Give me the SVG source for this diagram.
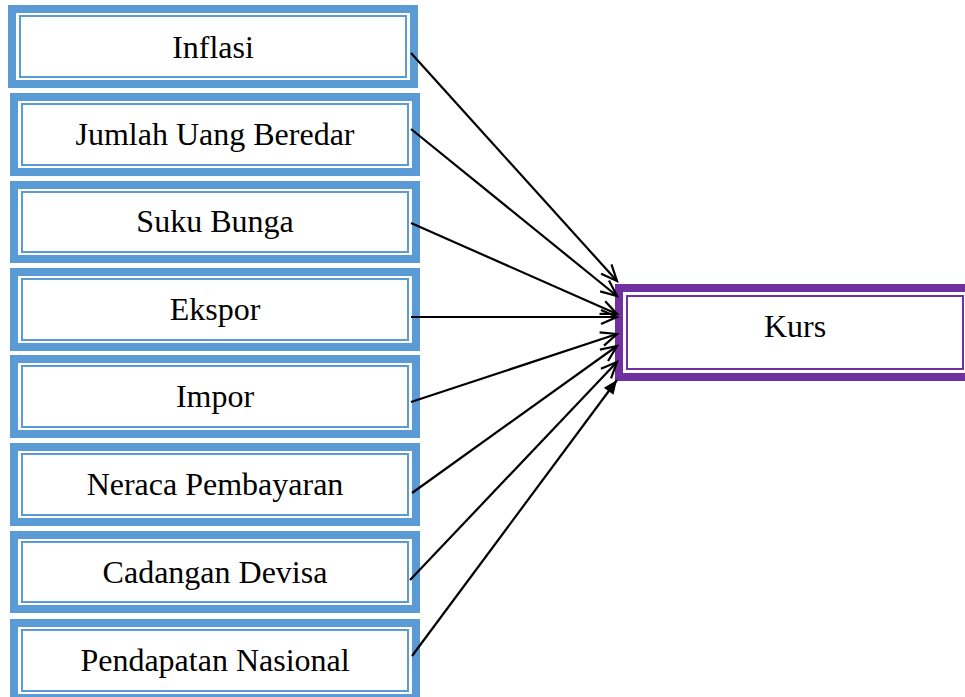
<svg xmlns="http://www.w3.org/2000/svg" width="965" height="697" viewBox="0 0 965 697">
<style>
.thick{fill:#ffffff;stroke:#5B9BD5;stroke-width:8}
.thin{fill:none;stroke:#5B9BD5;stroke-width:2}
.pthick{fill:#ffffff;stroke:#7030A0;stroke-width:8}
.pthin{fill:none;stroke:#7030A0;stroke-width:2}
.lbl{font-family:"Liberation Serif","Times New Roman",serif;font-size:32px;fill:#000000;text-anchor:middle}
.conn{stroke:#000000;stroke-width:2.2;fill:none}
</style>
<defs>
<marker id="open" markerUnits="userSpaceOnUse" markerWidth="30" markerHeight="30" viewBox="-20 -15 30 30" refX="0" refY="0" orient="auto">
<path d="M-16,-7 L0,0 L-16,7" fill="none" stroke="#000" stroke-width="2.2"/>
</marker>
<marker id="filled" markerUnits="userSpaceOnUse" markerWidth="30" markerHeight="30" viewBox="-20 -15 30 30" refX="0" refY="0" orient="auto">
<path d="M-14,-6 L0,0 L-14,6 Z" fill="#000" stroke="none"/>
</marker>
</defs>
<rect width="965" height="697" fill="#ffffff"/>
<g id="inflasi">
<rect class="thick" x="12" y="9" width="402" height="75"/>
<rect class="thin" x="20" y="16" width="386" height="61"/>
<text class="lbl" x="213" y="58">Inflasi</text>
</g>
<g id="jumlah-uang-beredar">
<rect class="thick" x="14" y="97" width="402" height="75"/>
<rect class="thin" x="22" y="104" width="386" height="61"/>
<text class="lbl" x="215" y="145">Jumlah Uang Beredar</text>
</g>
<g id="suku-bunga">
<rect class="thick" x="14" y="185" width="402" height="74"/>
<rect class="thin" x="22" y="192" width="386" height="60"/>
<text class="lbl" x="215" y="232">Suku Bunga</text>
</g>
<g id="ekspor">
<rect class="thick" x="14" y="272" width="402" height="75"/>
<rect class="thin" x="22" y="279" width="386" height="61"/>
<text class="lbl" x="215" y="320">Ekspor</text>
</g>
<g id="impor">
<rect class="thick" x="14" y="359" width="402" height="75"/>
<rect class="thin" x="22" y="366" width="386" height="61"/>
<text class="lbl" x="215" y="407">Impor</text>
</g>
<g id="neraca-pembayaran">
<rect class="thick" x="14" y="447" width="402" height="75"/>
<rect class="thin" x="22" y="454" width="386" height="61"/>
<text class="lbl" x="215" y="495">Neraca Pembayaran</text>
</g>
<g id="cadangan-devisa">
<rect class="thick" x="14" y="535" width="402" height="74"/>
<rect class="thin" x="22" y="542" width="386" height="60"/>
<text class="lbl" x="215" y="583">Cadangan Devisa</text>
</g>
<g id="pendapatan-nasional">
<rect class="thick" x="14" y="623" width="402" height="75"/>
<rect class="thin" x="22" y="630" width="386" height="61"/>
<text class="lbl" x="215" y="671">Pendapatan Nasional</text>
</g>
<g id="kurs">
<rect class="pthick" x="619" y="288" width="352" height="89"/>
<rect class="pthin" x="627" y="296" width="336" height="73"/>
<text class="lbl" x="795" y="337">Kurs</text>
</g>
<g id="connectors">
<line class="conn" x1="411" y1="53" x2="617" y2="281" marker-end="url(#open)"/>
<line class="conn" x1="411" y1="129" x2="617" y2="296" marker-end="url(#open)"/>
<line class="conn" x1="411" y1="223" x2="617" y2="314" marker-end="url(#open)"/>
<line class="conn" x1="411" y1="317" x2="617" y2="317" marker-end="url(#open)"/>
<line class="conn" x1="411" y1="402" x2="617" y2="334" marker-end="url(#open)"/>
<line class="conn" x1="412" y1="493" x2="617" y2="346" marker-end="url(#open)"/>
<line class="conn" x1="410" y1="580" x2="617" y2="362" marker-end="url(#open)"/>
<line class="conn" x1="412" y1="656" x2="617" y2="380" marker-end="url(#filled)"/>
</g>
</svg>
